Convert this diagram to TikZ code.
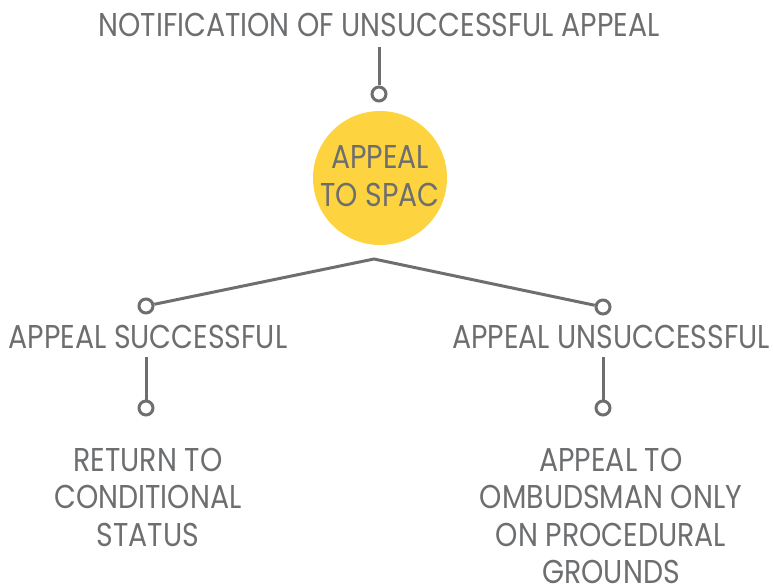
\documentclass[tikz,border=0pt]{standalone}
\usepackage{fontspec}
\setmainfont[FakeStretch=0.86]{Poppins}
\definecolor{txtgray}{HTML}{6D6E70}
\definecolor{spacyellow}{HTML}{FDD43F}
\begin{document}
\begin{tikzpicture}[x=1pt,y=-1pt,
  lbl/.style={text=txtgray,font=\fontsize{33}{37.5}\selectfont,inner sep=0pt,align=center},
  knob/.style={circle,draw=txtgray,line width=3pt,fill=white,minimum size=14pt,inner sep=0pt},
  conn/.style={draw=txtgray,line width=3pt}]
\useasboundingbox (0,0) rectangle (773,585);
\node[lbl] (title) at (379,25) {NOTIFICATION OF UNSUCCESSFUL APPEAL};
\node[knob] (k0) at (379,94) {};
\node[circle,fill=spacyellow,minimum size=134pt,inner sep=0pt] (spac) at (380,178) {};
\node[lbl] (spact) at (380,176) {APPEAL\\TO SPAC};
\coordinate (apex) at (374,259);
\node[knob] (kl) at (146,306) {};
\node[knob] (kr) at (603,307) {};
\node[lbl] (succ) at (148,337) {APPEAL SUCCESSFUL};
\node[lbl] (unsucc) at (611,337) {APPEAL UNSUCCESSFUL};
\node[knob] (kl2) at (146,408) {};
\node[knob] (kr2) at (603,408) {};
\node[lbl,anchor=north] (ret) at (148,448) {RETURN TO\\CONDITIONAL\\STATUS};
\node[lbl,anchor=north] (omb) at (611,448) {APPEAL TO\\OMBUDSMAN ONLY\\ON PROCEDURAL\\GROUNDS};
\draw[conn] (379,47) -- (k0);
\draw[conn] (kl) -- (apex) -- (kr);
\draw[conn] (146,357) -- (kl2);
\draw[conn] (603,357) -- (kr2);
\end{tikzpicture}
\end{document}
